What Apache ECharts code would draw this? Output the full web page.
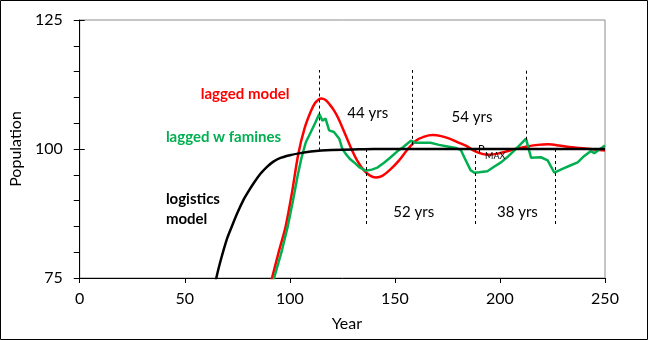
<!DOCTYPE html>
<html>
<head>
<meta charset="utf-8">
<script src="https://cdn.jsdelivr.net/npm/echarts@6/dist/echarts.min.js"></script>
<style>
html,body{margin:0;padding:0;background:#fff;}
#c{width:648px;height:340px;}
</style>
</head>
<body>
<div id="c"></div>
<script>
// ---- data ----
const logisticYears = [50, 55, 60, 63, 65, 67, 70, 72, 75, 78, 80, 83, 86, 89, 92, 95, 100, 105, 110, 115, 120, 130, 140, 250];
const logisticPop   = [40, 52, 64, 71, 75, 78.3, 82.5, 84.6, 87.6, 90.2, 91.6, 93.5, 95.2, 96.5, 97.5, 98.2, 98.8, 99.2, 99.5, 99.7, 99.8, 99.9, 100, 100];

const laggedYears = [85, 88, 91.5, 95, 98, 101, 104, 107, 110, 112, 114, 115, 117, 119, 121, 123, 126, 129, 132, 135, 138, 141, 144, 148, 152, 156, 160, 164, 168, 172, 176, 180, 184, 188, 192, 195, 199, 203, 208, 213, 218, 223, 228, 233, 238, 243, 250];
const laggedPop   = [65, 70, 75, 80.5, 85, 91.5, 99, 104, 107.3, 108.9, 109.7, 109.8, 109.5, 108.6, 107.5, 106, 103.2, 100.3, 97.8, 96, 94.9, 94.5, 94.8, 96.1, 97.8, 99.9, 101.6, 102.4, 102.7, 102.5, 102, 101.3, 100.6, 99.6, 99.0, 98.9, 99.1, 99.5, 100.1, 100.5, 100.8, 100.9, 100.7, 100.4, 100.2, 100.0, 99.7];

const famineYears = [87, 90, 92.5, 96, 99, 101.5, 103.7, 105.5, 107.6, 110, 112, 114, 115.5, 117, 118.7, 121, 123.5, 125, 126.7, 128.5, 130.6, 133, 136, 139, 141.7, 145, 148, 151, 154, 157.6, 160, 164, 167, 171, 175, 179, 181.4, 183, 186, 187.8, 190, 194, 197, 200.5, 204, 206.8, 210, 212.4, 214.8, 219.5, 222.7, 225.9, 230, 234, 237, 240, 243.3, 244.9, 247, 250];
const faminePop   = [65, 70, 75, 80, 85, 90, 94.8, 98.2, 101.3, 103.3, 105, 106.8, 105.5, 105.9, 103.6, 103.3, 102, 100, 99, 98.1, 97.4, 96.5, 95.8, 96, 96.4, 97.4, 98.4, 99.5, 100.4, 101.6, 101.2, 101.2, 101.2, 100.8, 100.5, 100.2, 99.8, 98.4, 95.9, 95.4, 95.5, 95.7, 96.5, 97.4, 98.6, 99.7, 101, 102, 98.3, 98.4, 97.8, 95.4, 96.2, 96.9, 97.4, 98.6, 99.6, 99.2, 99.8, 100.7];

// dashed period markers: [year, fromPop, toPop]
const markerYears = [114, 158.4, 212.7, 136.5, 188.2, 226.3];
const markerFrom  = [99.7, 100.8, 101.8, 100, 100, 100];
const markerTo    = [115.3, 115.3, 115.3, 85, 85, 85];

const periodLabels = ['44 yrs', '54 yrs', '52 yrs', '38 yrs'];
const seriesNames = ['logistics model', 'lagged model', 'lagged w famines'];

const xMin = 0, xMax = 250, xStep = 50;
const yMin = 75, yMax = 125, yStep = 25;

const zip = (a, b) => a.map((v, i) => [v, b[i]]);

const FONT = 'Lato';

// annotation placements (data units)
const notes = [
  {t: 'lagged model',     at: [57.6, 110.7], c: '#FF0000', bold: true,  size: 15, align: 'left'},
  {t: 'lagged w famines', at: [41.0, 102.3], c: '#00B050', bold: true,  size: 15, align: 'left'},
  {t: 'logistics',        at: [41.0, 90.2],  c: '#000000', bold: true,  size: 15, align: 'left'},
  {t: 'model',            at: [41.0, 86.5],  c: '#000000', bold: true,  size: 15, align: 'left'},
  {t: periodLabels[0],    at: [137.1, 107.0], c: '#000000', bold: false, size: 15, align: 'center'},
  {t: periodLabels[1],    at: [186.7, 106.25], c: '#000000', bold: false, size: 15, align: 'center'},
  {t: periodLabels[2],    at: [159.0, 87.7], c: '#000000', bold: false, size: 15, align: 'center'},
  {t: periodLabels[3],    at: [208.3, 87.7], c: '#000000', bold: false, size: 15, align: 'center'},
  {t: 'P',                at: [189.6, 100.0], c: '#000000', bold: false, size: 11, align: 'left'},
  {t: 'MAX',              at: [192.9, 98.7], c: '#000000', bold: false, size: 9,  align: 'left'}
];

const chart = echarts.init(document.getElementById('c'), null, {renderer: 'canvas'});

const lineStyleBase = {width: 2.5};

chart.setOption({
  animation: false,
  backgroundColor: '#ffffff',
  textStyle: {fontFamily: FONT},
  grid: {left: 79, right: 43, top: 20, bottom: 62, show: true, borderColor: '#8c8c8c', borderWidth: 1},
  graphic: [{
    type: 'rect', silent: true,
    shape: {x: 0.5, y: 0.5, width: 647, height: 339},
    style: {fill: 'none', stroke: '#000', lineWidth: 1}
  }],
  xAxis: {
    type: 'value', min: xMin, max: xMax, interval: xStep,
    name: 'Year', nameLocation: 'middle', nameGap: 38,
    nameTextStyle: {fontFamily: FONT, fontSize: 16, color: '#000', padding: [0, 0, 0, 9]},
    axisLine: {show: true, onZero: false, lineStyle: {color: '#000', width: 1}},
    axisTick: {show: true, inside: false, length: 5, lineStyle: {color: '#000'}},
    axisLabel: {fontFamily: FONT, fontSize: 16, color: '#000', margin: 13},
    splitLine: {show: false}
  },
  yAxis: [{
    type: 'value', min: yMin, max: yMax, interval: yStep,
    name: 'Population', nameLocation: 'middle', nameGap: 50,
    nameTextStyle: {fontFamily: FONT, fontSize: 16, color: '#000'},
    axisLine: {show: true, onZero: false, lineStyle: {color: '#000', width: 1}},
    axisTick: {show: true, inside: false, length: 6, lineStyle: {color: '#000'}},
    minorTick: {show: true, splitNumber: 5, length: 6, lineStyle: {color: '#000'}},
    axisLabel: {fontFamily: FONT, fontSize: 16, color: '#000', margin: 17},
    splitLine: {show: false},
    minorSplitLine: {show: false}
  }, {
    type: 'value', min: yMin, max: yMax, interval: yStep, position: 'left',
    axisLine: {show: false},
    axisTick: {show: true, inside: true, length: 5, lineStyle: {color: '#000'}},
    axisLabel: {show: false},
    splitLine: {show: false}
  }],
  series: [
    {
      name: seriesNames[1], type: 'line', data: zip(laggedYears, laggedPop),
      showSymbol: false, symbol: 'none', clip: true, smooth: 0.3,
      lineStyle: Object.assign({color: '#FF0000'}, lineStyleBase), itemStyle: {color: '#FF0000'}, z: 3
    },
    {
      name: seriesNames[2], type: 'line', data: zip(famineYears, faminePop),
      showSymbol: false, symbol: 'none', clip: true,
      lineStyle: Object.assign({color: '#00B050'}, lineStyleBase), itemStyle: {color: '#00B050'}, z: 4
    },
    {
      name: seriesNames[0], type: 'line', data: zip(logisticYears, logisticPop),
      showSymbol: false, symbol: 'none', clip: true, smooth: 0.3,
      lineStyle: Object.assign({color: '#000000'}, lineStyleBase), itemStyle: {color: '#000'}, z: 5
    },
    {
      name: 'notes', type: 'scatter', symbolSize: 0, silent: true, z: 10, clip: false,
      itemStyle: {opacity: 1},
      data: notes.map(n => ({
        value: n.at,
        itemStyle: {opacity: 1},
        label: {
          show: true, formatter: n.t, position: [0, 0], opacity: 1,
          align: n.align, verticalAlign: 'middle',
          fontFamily: FONT, fontSize: n.size, fontWeight: n.bold ? 'bold' : 'normal', color: n.c
        }
      })),
      markLine: {
        silent: true, symbol: ['none', 'none'], animation: false,
        label: {show: false},
        lineStyle: {type: [3, 3], color: '#000', width: 1, opacity: 1},
        data: markerYears.map((x, i) => [{coord: [x, markerFrom[i]]}, {coord: [x, markerTo[i]]}])
      }
    }
  ]
});
</script>
</body>
</html>
